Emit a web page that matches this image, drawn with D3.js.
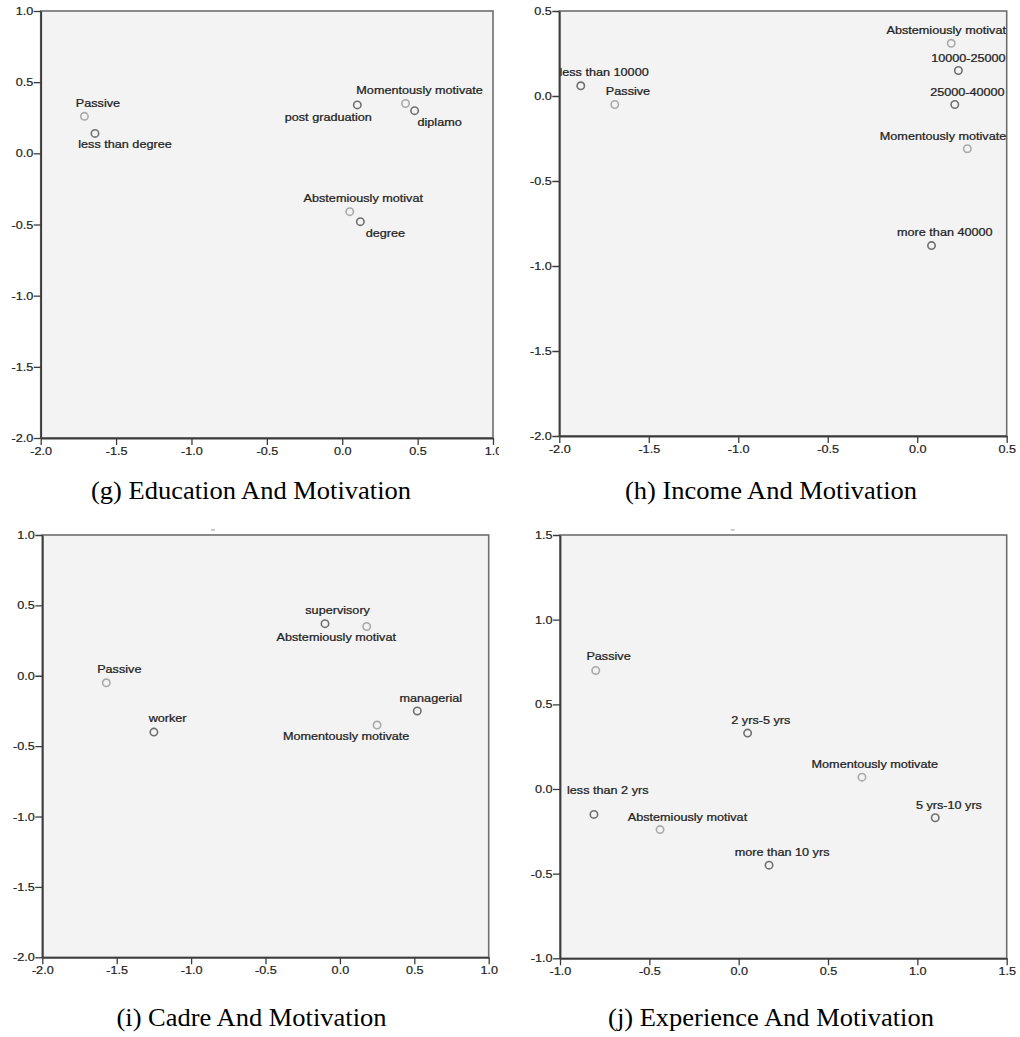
<!DOCTYPE html>
<html>
<head>
<meta charset="utf-8">
<script src="https://cdn.jsdelivr.net/npm/d3@7"></script>
<style>
  body { margin: 0; background: #ffffff; }
  svg { display: block; }
</style>
</head>
<body>
<svg id="fig" width="1020" height="1037"></svg>
<script>
// ---------- data: two-dimensional category coordinates ----------
// "m" = motivation category, "v" = category of the other variable

// (g) Education and motivation
const eduNames = ["Passive", "less than degree", "post graduation", "Momentously motivate", "diplamo", "Abstemiously motivat", "degree"];
const eduDim1  = [-1.71, -1.64, 0.10, 0.42, 0.48, 0.05, 0.12];
const eduDim2  = [0.26, 0.14, 0.34, 0.35, 0.30, -0.41, -0.48];
const eduKind  = ["m", "v", "v", "m", "v", "m", "v"];

// (h) Income and motivation
const incNames = ["less than 10000", "Passive", "Abstemiously motivat", "10000-25000", "25000-40000", "Momentously motivate", "more than 40000"];
const incDim1  = [-1.88, -1.69, 0.19, 0.23, 0.21, 0.28, 0.08];
const incDim2  = [0.06, -0.05, 0.31, 0.15, -0.05, -0.31, -0.88];
const incKind  = ["v", "m", "m", "v", "v", "m", "v"];

// (i) Cadre and motivation
const cadNames = ["Passive", "worker", "supervisory", "Abstemiously motivat", "managerial", "Momentously motivate"];
const cadDim1  = [-1.57, -1.25, -0.10, 0.18, 0.52, 0.25];
const cadDim2  = [-0.05, -0.40, 0.37, 0.35, -0.25, -0.35];
const cadKind  = ["m", "v", "v", "m", "v", "m"];

// (j) Experience and motivation
const expNames = ["Passive", "2 yrs-5 yrs", "Momentously motivate", "less than 2 yrs", "Abstemiously motivat", "more than 10 yrs", "5 yrs-10 yrs"];
const expDim1  = [-0.80, 0.05, 0.69, -0.81, -0.44, 0.17, 1.10];
const expDim2  = [0.70, 0.33, 0.07, -0.15, -0.24, -0.45, -0.17];
const expKind  = ["m", "v", "m", "v", "m", "v", "v"];

// axis ranges and tick values
const eduXTicks = [-2.0, -1.5, -1.0, -0.5, 0.0, 0.5, 1.0];
const eduYTicks = [-2.0, -1.5, -1.0, -0.5, 0.0, 0.5, 1.0];
const incXTicks = [-2.0, -1.5, -1.0, -0.5, 0.0, 0.5];
const incYTicks = [-2.0, -1.5, -1.0, -0.5, 0.0, 0.5];
const cadXTicks = [-2.0, -1.5, -1.0, -0.5, 0.0, 0.5, 1.0];
const cadYTicks = [-2.0, -1.5, -1.0, -0.5, 0.0, 0.5, 1.0];
const expXTicks = [-1.0, -0.5, 0.0, 0.5, 1.0, 1.5];
const expYTicks = [-1.0, -0.5, 0.0, 0.5, 1.0, 1.5];

const captions = ["(g) Education And Motivation", "(h) Income And Motivation",
                  "(i) Cadre And Motivation", "(j) Experience And Motivation"];

// ---------- layout ----------
// label offsets: [dx to label centre, dy to label baseline] from the point
const panels = [
  { names: eduNames, d1: eduDim1, d2: eduDim2, kind: eduKind, xt: eduXTicks, yt: eduYTicks, caption: captions[0],
    left: 40.7, right: 493, top: 11, bottom: 438, clipRight: 499, capX: 251, capY: 499, dash: null,
    offs: [[13.5,-9.7],[30,15],[-29,15.7],[14,-10],[25,15],[13.5,-9.4],[25,15.6]] },
  { names: incNames, d1: incDim1, d2: incDim2, kind: incKind, xt: incXTicks, yt: incYTicks, caption: captions[1],
    left: 559.3, right: 1006.7, top: 11, bottom: 436, clipRight: 1020, capX: 771, capY: 499, dash: null,
    offs: [[23.3,-10],[13.2,-9.3],[-5,-9],[10,-9],[12.6,-8.3],[-24.3,-9],[13.3,-9.3]] },
  { names: cadNames, d1: cadDim1, d2: cadDim2, kind: cadKind, xt: cadXTicks, yt: cadYTicks, caption: captions[2],
    left: 42.3, right: 488.7, top: 535, bottom: 957.3, clipRight: 510, capX: 251.5, capY: 1026, dash: 213,
    offs: [[13,-10],[13.7,-9.7],[12.6,-9.7],[-30.4,15],[13.5,-9.3],[-31,15]] },
  { names: expNames, d1: expDim1, d2: expDim2, kind: expKind, xt: expXTicks, yt: expYTicks, caption: captions[3],
    left: 560, right: 1006.7, top: 535, bottom: 958.3, clipRight: 1020, capX: 771, capY: 1026, dash: 732.7,
    offs: [[12.8,-10],[13.2,-9],[12.8,-9.4],[13.8,-20],[27.4,-8.6],[13,-9.3],[13.7,-9]] }
];

const SANS = "'Liberation Sans', Arial, sans-serif";
const SERIF = "'Liberation Serif', 'Times New Roman', serif";
const SX = 1.15;          // horizontal stretch of the sans text
const INK = "#222222";
const fmt = d => d.toFixed(1);

const svg = d3.select("#fig");
const defs = svg.append("defs");

panels.forEach((p, pi) => {
  const x = d3.scaleLinear().domain(d3.extent(p.xt)).range([p.left, p.right]);
  const y = d3.scaleLinear().domain(d3.extent(p.yt)).range([p.bottom, p.top]);

  // crop of the whole panel
  defs.append("clipPath").attr("id", "panel" + pi)
    .append("rect").attr("x", p.left - 45).attr("y", p.top - 12)
    .attr("width", p.clipRight - (p.left - 45)).attr("height", p.bottom - p.top + 120);
  // plot area
  defs.append("clipPath").attr("id", "plot" + pi)
    .append("rect").attr("x", p.left).attr("y", p.top)
    .attr("width", p.right - p.left).attr("height", p.bottom - p.top);

  const g = svg.append("g").attr("clip-path", `url(#panel${pi})`);

  g.append("rect")
    .attr("x", p.left).attr("y", p.top)
    .attr("width", p.right - p.left).attr("height", p.bottom - p.top)
    .attr("fill", "#f3f3f3").attr("stroke", "#6e6e6e").attr("stroke-width", 1.6);

  if (p.dash !== null) {
    g.append("line").attr("x1", p.dash - 2).attr("x2", p.dash + 2)
      .attr("y1", p.top - 5).attr("y2", p.top - 5)
      .attr("stroke", "#9a9a9a").attr("stroke-width", 1);
  }

  // points and their labels
  const pts = p.names.map((n, i) => ({ name: n, a: p.d1[i], b: p.d2[i], kind: p.kind[i], off: p.offs[i] }));
  const inner = g.append("g").attr("clip-path", `url(#plot${pi})`);

  inner.selectAll("circle").data(pts).join("circle")
    .attr("cx", d => x(d.a)).attr("cy", d => y(d.b)).attr("r", 3.7)
    .attr("fill", "none")
    .attr("stroke", d => d.kind === "m" ? "#a9a9a9" : "#6f6f6f")
    .attr("stroke-width", 1.6);

  inner.selectAll("text").data(pts).join("text")
    .attr("transform", d => `translate(${x(d.a) + d.off[0]},${y(d.b) + d.off[1]}) scale(${SX},1)`)
    .attr("text-anchor", "middle")
    .attr("font-family", SANS).attr("font-size", 11)
    .attr("fill", INK).attr("stroke", INK).attr("stroke-width", 0.25)
    .text(d => d.name);

  // axes
  const xAxis = g.append("g").attr("transform", `translate(0,${p.bottom})`)
    .call(d3.axisBottom(x).tickValues(p.xt).tickFormat(fmt).tickSize(7).tickSizeOuter(0).tickPadding(2));
  const yAxis = g.append("g").attr("transform", `translate(${p.left},0)`)
    .call(d3.axisLeft(y).tickValues(p.yt).tickFormat(fmt).tickSize(7).tickSizeOuter(0).tickPadding(0));

  [xAxis, yAxis].forEach(ax => {
    ax.select(".domain").attr("stroke", "#3c3c3c").attr("stroke-width", 1.8);
    ax.selectAll(".tick line").attr("stroke", "#3c3c3c").attr("stroke-width", 1.3);
    ax.selectAll(".tick text").attr("font-family", SANS).attr("font-size", 11)
      .attr("fill", INK).attr("stroke", INK).attr("stroke-width", 0.2);
  });
  xAxis.selectAll(".tick text").attr("transform", `scale(${SX},1)`);
  yAxis.selectAll(".tick text")
    .attr("x", -7.5 / SX)
    .attr("transform", `scale(${SX},1)`);

  // caption below the panel
  svg.append("text")
    .attr("transform", `translate(${p.capX},${p.capY}) scale(1.06,1)`)
    .attr("text-anchor", "middle")
    .attr("font-family", SERIF).attr("font-size", 25)
    .attr("fill", "#000")
    .text(p.caption);
});
</script>
</body>
</html>
